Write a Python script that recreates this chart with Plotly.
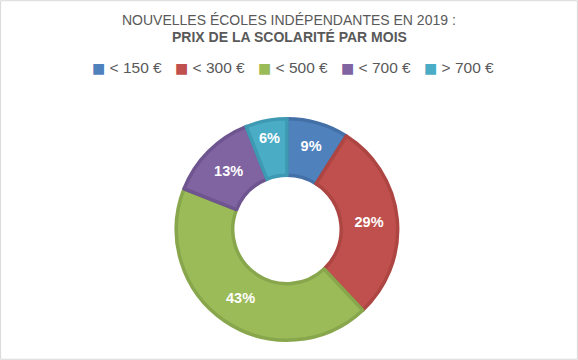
import plotly.graph_objects as go

categories = ["< 150 €", "< 300 €", "< 500 €", "< 700 €", "> 700 €"]
values = [9, 29, 43, 13, 6]
colors = ["#4F81BD", "#C0504D", "#9BBB59", "#8064A2", "#4BACC6"]
border_colors = ["#4470A8", "#AD4542", "#88A64C", "#6F558F", "#3D9AB2"]

W, H = 578, 360

fig = go.Figure(go.Pie(
    labels=categories,
    values=values,
    hole=0.49,
    sort=False,
    direction="clockwise",
    rotation=0,
    showlegend=False,
    marker=dict(colors=colors, line=dict(color=border_colors, width=3.5)),
    textinfo="percent",
    texttemplate="<b>%{percent:.0%}</b>",
    textposition="inside",
    insidetextorientation="horizontal",
    insidetextfont=dict(color="white", size=14.5, family="Liberation Sans, Arial"),
    domain=dict(x=[0, 0.993], y=[0.055, 0.67]),
))

annotations = [
    dict(text="NOUVELLES ÉCOLES INDÉPENDANTES EN 2019 :", xref="paper", yref="paper",
         x=0.5, y=1 - 20 / H, xanchor="center", yanchor="middle", showarrow=False,
         font=dict(size=14, color="#595959")),
    dict(text="<b>PRIX DE LA SCOLARITÉ PAR MOIS</b>", xref="paper", yref="paper",
         x=0.5, y=1 - 37 / H, xanchor="center", yanchor="middle", showarrow=False,
         font=dict(size=14, color="#595959")),
]
# legend built as text items
for i, (lab, col) in enumerate(zip(categories, colors)):
    annotations.append(dict(
        text=f"<span style='color:{col};font-size:14px;font-family:DejaVu Sans'>■</span> {lab}",
        xref="paper", yref="paper",
        x=(90 + 83 * i) / W, y=1 - 67 / H, xanchor="left", yanchor="middle", showarrow=False,
        font=dict(size=15.5, color="#595959"),
    ))

fig.update_layout(
    width=W, height=H,
    margin=dict(l=0, r=0, t=0, b=0),
    paper_bgcolor="white",
    font=dict(family="Liberation Sans, Arial", color="#595959"),
    annotations=annotations,
    shapes=[dict(type="rect", xref="paper", yref="paper", x0=0.001, y0=0.002, x1=0.999, y1=0.998,
                 line=dict(color="#D9D9D9", width=1))],
)

fig.write_html("out.html", config={"displayModeBar": False},
               post_script="document.body.style.margin='0';document.body.style.overflow='hidden';")
